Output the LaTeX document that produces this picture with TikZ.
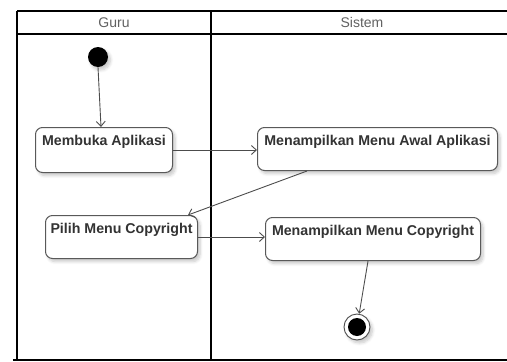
\documentclass[tikz,border=0pt]{standalone}
\usepackage{fontspec}
\setmainfont{Liberation Sans}
\usetikzlibrary{arrows.meta,shadows.blur}

\tikzset{
  lane/.style={line width=2pt, black},
  lanetitle/.style={font=\fontsize{14}{16}\selectfont, text=black!62},
  softshadow/.style={blur shadow={shadow xshift=2.5pt, shadow yshift=-3pt,
      shadow blur steps=6, shadow opacity=22, shadow blur radius=3pt}},
  action/.style={draw=black!65, line width=1pt, fill=white, rounded corners=7pt,
      softshadow, inner xsep=3pt, inner ysep=4pt,
      font=\bfseries\fontsize{14.2}{16}\selectfont, text=black!80,
      text height=14pt},
  flow/.style={draw=black!70, line width=0.9pt,
      -{Straight Barb[length=5pt,width=9pt,line width=0.9pt]}},
  initial/.style={circle, fill=black, minimum size=20pt, inner sep=0pt, softshadow},
  final/.style={circle, draw=black!70, line width=0.9pt, fill=white,
      minimum size=26pt, inner sep=0pt, softshadow},
}

\begin{document}
\begin{tikzpicture}[x=1pt, y=-1pt]
  \useasboundingbox (0,0) rectangle (507,362);

  % swimlane frame
  \draw[lane] (17,11) -- (507,11);
  \draw[lane] (17,34) -- (507,34);
  \draw[lane] (17,11) -- (17,360);
  \draw[lane] (211,11) -- (211,360);
  \draw[lane] (13,360) -- (507,360);
  \node[lanetitle] (guru) at (114,22.5) {Guru};
  \node[lanetitle] (sistem) at (362,22.5) {Sistem};

  % start and end
  \node[initial] (start) at (98,57) {};
  \node[final] (stop) at (357,327) {};
  \fill (stop.center) circle (9pt);

  % actions
  \node[action, minimum width=137pt, text depth=23pt, anchor=north west]
    (m1) at (35,127) {Membuka Aplikasi};
  \node[action, minimum width=240pt, text depth=21pt, anchor=north west]
    (m2) at (257,127) {Menampilkan Menu Awal Aplikasi};
  \node[action, minimum width=152pt, text depth=21pt, anchor=north west]
    (m3) at (45,215) {Pilih Menu Copyright};
  \node[action, minimum width=215pt, text depth=21pt, anchor=north west]
    (m4) at (265,217) {Menampilkan Menu Copyright};

  % control flow
  \draw[flow] (start.south) -- ([xshift=66pt]m1.north west);
  \draw[flow] (m1.east) -- (m1.east -| m2.west);
  \draw[flow] ([xshift=50pt]m2.south west) -- ([xshift=143pt]m3.north west);
  \draw[flow] (m3.east) -- (m3.east -| m4.west);
  \draw[flow] ([xshift=103pt]m4.south west) -- (stop);
\end{tikzpicture}
\end{document}
